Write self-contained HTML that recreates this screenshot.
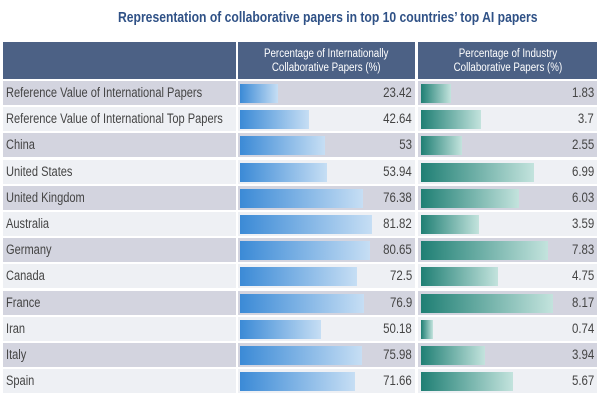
<!DOCTYPE html>
<html><head><style>
body{margin:0;width:600px;height:400px;background:#fff;font-family:"Liberation Sans",sans-serif;position:relative;overflow:hidden}
.t{position:absolute;left:118px;top:9px;white-space:nowrap;color:#2f5186;font-weight:bold;font-size:15px;transform:scaleX(.81);transform-origin:left top}
.hd{position:absolute;top:42px;height:37px;background:#4c6185;color:#fff;font-size:11.5px;text-align:center;line-height:14px;padding-top:5px;box-sizing:border-box;white-space:nowrap}
.hd span{display:inline-block;transform:scaleX(.85)}
.r{position:absolute;left:3px;width:594px;height:24px}
.c{position:absolute;top:0;height:24px;font-size:13.5px;color:#444;line-height:24px;white-space:nowrap}
.c span{display:inline-block;transform:scaleX(.82);transform-origin:left center}
.b1{position:absolute;top:3px;height:19px;background:linear-gradient(90deg,#3b8ad6,#c6def4)}
.b2{position:absolute;top:3px;height:19px;background:linear-gradient(90deg,#1f7f74,#c3e3dd)}
.v{position:absolute;top:0;line-height:24px;font-size:13.5px;color:#444;text-align:right}
.v span{display:inline-block;transform:scaleX(.85);transform-origin:right center}
</style></head><body>
<div class="t">Representation of collaborative papers in top 10 countries’ top AI papers</div>
<div class="hd" style="left:3px;width:233px"></div>
<div class="hd" style="left:238px;width:177px"><span>Percentage of Internationally<br>Collaborative Papers (%)</span></div>
<div class="hd" style="left:418px;width:179px"><span>Percentage of Industry<br>Collaborative Papers (%)</span></div>
<div id="rows"></div>
<script>
var d=[["Reference Value of International Papers",23.42,1.83],["Reference Value of International Top Papers",42.64,3.7],["China",53,2.55],["United States",53.94,6.99],["United Kingdom",76.38,6.03],["Australia",81.82,3.59],["Germany",80.65,7.83],["Canada",72.5,4.75],["France",76.9,8.17],["Iran",50.18,0.74],["Italy",75.98,3.94],["Spain",71.66,5.67]];
var h="";d.forEach(function(r,i){var bg=i%2?"#eef0f4":"#d3d4df";var top=81+i*26.2;
h+='<div class="r" style="top:'+top+'px">'+
'<div class="c" style="left:0;width:233px;background:'+bg+';padding-left:3px;box-sizing:border-box"><span>'+r[0]+'</span></div>'+
'<div class="c" style="left:235px;width:177px;background:'+bg+'"></div>'+
'<div class="c" style="left:415px;width:179px;background:'+bg+'"></div>'+
'<div class="b1" style="left:237px;width:'+Math.round(r[1]*1.61)+'px"></div>'+
'<div class="b2" style="left:418px;width:'+Math.round(r[2]*16.2)+'px"></div>'+
'<div class="v" style="left:300px;width:109px"><span>'+r[1]+'</span></div>'+
'<div class="v" style="left:480px;width:111px"><span>'+r[2]+'</span></div></div>';});
document.getElementById("rows").innerHTML=h;
</script>
</body></html>
